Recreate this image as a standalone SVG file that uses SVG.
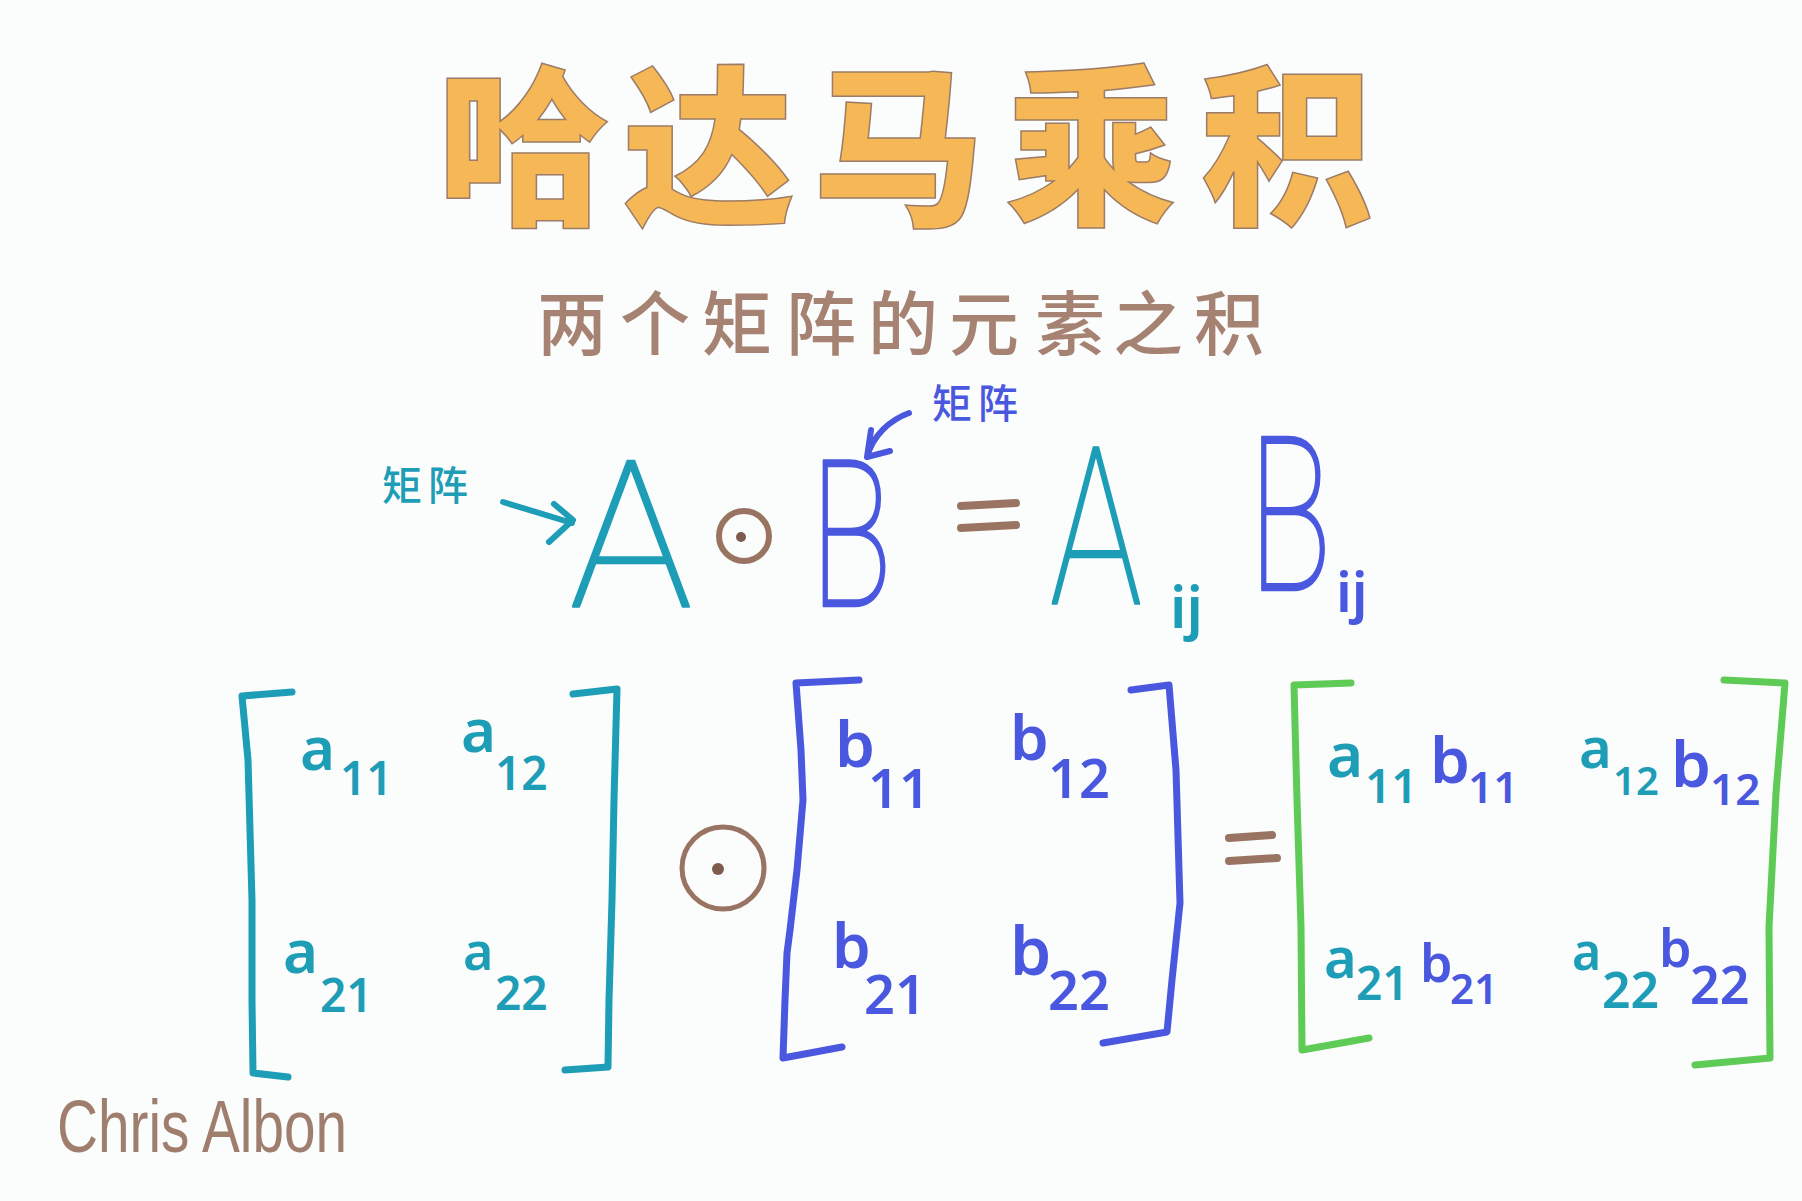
<svg xmlns="http://www.w3.org/2000/svg" width="1802" height="1201" viewBox="0 0 1802 1201">
<style>
.title{font-family:"Noto Sans CJK SC","Noto Sans CJK JP",sans-serif;font-weight:900;font-size:172px;fill:#F6B856;stroke:#9C7C66;stroke-width:1.5;text-anchor:middle}
.sub{font-family:"Noto Sans CJK SC","Noto Sans CJK JP",sans-serif;font-weight:500;font-size:70px;fill:#A68272;text-anchor:middle}
.lbl{font-family:"Noto Sans CJK SC","Noto Sans CJK JP",sans-serif;font-weight:500;font-size:40px;letter-spacing:6px}
.big{font-family:Roboto,Lato,"Liberation Sans",sans-serif;font-weight:100;text-anchor:middle;stroke-width:2.5;stroke-linejoin:round}
.ent{font-family:"Noto Sans","Liberation Sans",sans-serif;font-weight:600}
.teal{fill:#1E9DB7;stroke:#1E9DB7}
.blue{fill:#4A58DF;stroke:#4A58DF}
.tealT{fill:#1E9DB7}
.blueT{fill:#4A58DF}
.stk{fill:none;stroke-linecap:round;stroke-linejoin:round}
.brown{stroke:#9A7463}
</style>
<rect width="1802" height="1201" fill="#FBFCFC"/>

<g id="title">
<text class="title" x="523" y="211">哈</text>
<text class="title" x="709" y="211">达</text>
<text class="title" x="898" y="211">马</text>
<text class="title" x="1091" y="211">乘</text>
<text class="title" x="1287" y="211">积</text>
</g>

<g id="subtitle" class="sub">
<text x="572" y="350">两</text>
<text x="655" y="350">个</text>
<text x="737" y="350">矩</text>
<text x="821" y="350">阵</text>
<text x="903" y="350">的</text>
<text x="984" y="350">元</text>
<text x="1070" y="350">素</text>
<text x="1148" y="350">之</text>
<text x="1229" y="350">积</text>
</g>

<g id="label-a"><text class="lbl tealT" x="382" y="500">矩阵</text></g>
<g id="label-b"><text class="lbl blueT" x="932" y="418">矩阵</text></g>

<g id="connectors">
<path class="stk" stroke="#1E9DB7" stroke-width="6" d="M503,502 L572,523 M554,504 L573,520 L549,542"/>
<path class="stk" stroke="#4A58DF" stroke-width="6" d="M909,413 C890,420 873,435 867,457 M871,430 L867,457 L890,451"/>
</g>

<g id="formula">
<text class="big teal" font-size="205" transform="translate(631,606)">A</text>
<g id="odot-small">
<circle cx="744" cy="536" r="25" class="stk brown" stroke-width="6"/>
<circle cx="741" cy="537" r="5" fill="#7E5C4C"/>
</g>
<text class="big blue" font-size="205" transform="translate(851,606) scale(0.66,1)">B</text>
<path class="stk brown" stroke-width="8" d="M961,506 L1016,503 M961,528 L1016,525"/>
<text class="big teal" font-size="220" transform="translate(1096,604) scale(0.7,1)">A</text>
<text class="ent tealT" font-size="58" font-weight="500" x="1170" y="628">ij</text>
<text class="big blue" font-size="215" transform="translate(1290,590) scale(0.64,1)">B</text>
<text class="ent blueT" font-size="56" font-weight="500" x="1336" y="612">ij</text>
</g>

<g id="matrix-a">
<path class="stk" stroke="#1E9DB7" stroke-width="7" d="M292,692 L242,696 L248,760 L252,900 L252,1000 L253,1073 L288,1077"/>
<path class="stk" stroke="#1E9DB7" stroke-width="7" d="M573,694 L617,689 L614,800 L612,900 L609,1000 L608,1067 L565,1070"/>
<text class="ent tealT" font-size="60" x="300" y="770">a</text><text class="ent tealT" font-size="46" x="340" y="795">11</text>
<text class="ent tealT" font-size="60" x="461" y="752">a</text><text class="ent tealT" font-size="46" x="495" y="790">12</text>
<text class="ent tealT" font-size="60" x="283" y="973">a</text><text class="ent tealT" font-size="46" x="320" y="1012">21</text>
<text class="ent tealT" font-size="52" x="463" y="970">a</text><text class="ent tealT" font-size="46" x="495" y="1010">22</text>
</g>

<g id="odot-big">
<circle cx="723" cy="868" r="41" class="stk brown" stroke-width="5"/>
<circle cx="718" cy="869" r="6" fill="#7E5C4C"/>
</g>

<g id="matrix-b">
<path class="stk" stroke="#4A58DF" stroke-width="7" d="M859,680 L796,683 L801,750 L803,800 L797,870 L790,930 L787,953 L785,1000 L783,1058 L842,1047"/>
<path class="stk" stroke="#4A58DF" stroke-width="7" d="M1131,690 L1169,685 L1176,770 L1180,903 L1172,980 L1167,1032 L1103,1043"/>
<text class="ent blueT" font-size="64" x="835" y="767">b</text><text class="ent blueT" font-size="54" x="868" y="808">11</text>
<text class="ent blueT" font-size="62" x="1010" y="760">b</text><text class="ent blueT" font-size="54" x="1048" y="798">12</text>
<text class="ent blueT" font-size="62" x="832" y="968">b</text><text class="ent blueT" font-size="54" x="864" y="1014">21</text>
<text class="ent blueT" font-size="66" x="1010" y="975">b</text><text class="ent blueT" font-size="54" x="1048" y="1010">22</text>
</g>

<g id="equals-2"><path class="stk brown" stroke-width="8" d="M1229,838 L1272,835 M1229,861 L1277,858"/></g>

<g id="matrix-c">
<path class="stk" stroke="#5DCB55" stroke-width="7" d="M1351,683 L1294,685 L1297,800 L1301,927 L1302,1050 L1369,1038"/>
<path class="stk" stroke="#5DCB55" stroke-width="7" d="M1724,680 L1785,683 L1776,793 L1769,927 L1770,1058 L1695,1065"/>
<text class="ent tealT" font-size="62" x="1327" y="777">a</text><text class="ent tealT" font-size="46" x="1365" y="803">11</text>
<text class="ent blueT" font-size="64" x="1430" y="783">b</text><text class="ent blueT" font-size="44" x="1468" y="803">11</text>
<text class="ent tealT" font-size="56" x="1579" y="768">a</text><text class="ent tealT" font-size="40" x="1613" y="795">12</text>
<text class="ent blueT" font-size="64" x="1671" y="787">b</text><text class="ent blueT" font-size="44" x="1710" y="805">12</text>
<text class="ent tealT" font-size="56" x="1324" y="978">a</text><text class="ent tealT" font-size="46" x="1356" y="1000">21</text>
<text class="ent blueT" font-size="52" x="1420" y="982">b</text><text class="ent blueT" font-size="42" x="1450" y="1004">21</text>
<text class="ent tealT" font-size="50" x="1572" y="970">a</text><text class="ent tealT" font-size="50" x="1602" y="1008">22</text>
<text class="ent blueT" font-size="52" x="1659" y="967">b</text><text class="ent blueT" font-size="52" x="1690" y="1004">22</text>
</g>

<g id="signature"><text x="57" y="1152" font-family="Liberation Sans, sans-serif" font-size="74" fill="#A07E6E" textLength="290" lengthAdjust="spacingAndGlyphs">Chris Albon</text></g>
</svg>
